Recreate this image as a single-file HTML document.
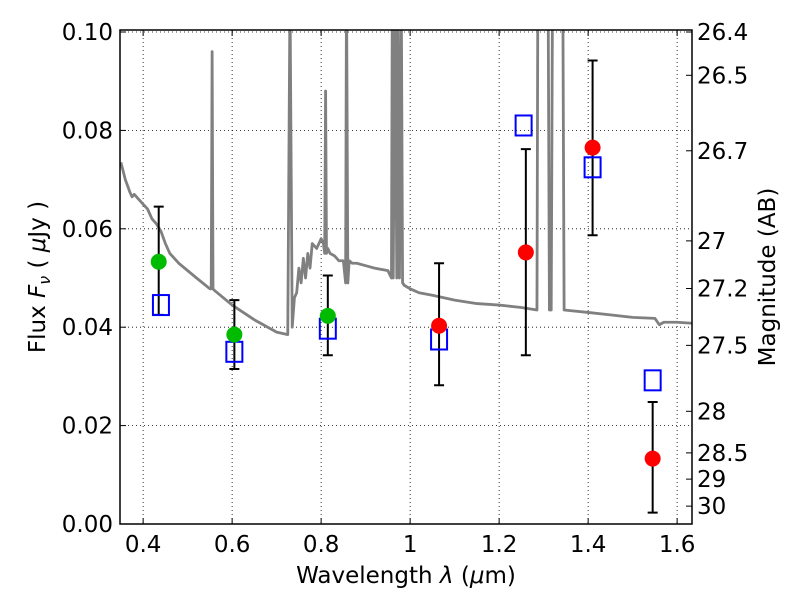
<!DOCTYPE html>
<html><head><meta charset="utf-8"><style>
body{margin:0;background:#fff}
svg text{font-family:"DejaVu Sans","Liberation Sans",sans-serif;fill:#000}
</style></head><body>
<svg id="chart" width="800" height="600" xmlns="http://www.w3.org/2000/svg">
<defs><clipPath id="clip"><rect x="120" y="30" width="572" height="494"/></clipPath></defs>
<rect x="0" y="0" width="800" height="600" fill="#fff"/>
<g id="grid"></g>
<g id="spec" clip-path="url(#clip)"></g>
<g id="marks" clip-path="url(#clip)"></g>
<rect x="120" y="30" width="572" height="494" fill="none" stroke="#000" stroke-width="1.5"/>
<g id="axes"></g>
<text x="406" y="583" font-size="23" text-anchor="middle">Wavelength  <tspan font-style="italic">λ</tspan> (<tspan font-style="italic">μ</tspan>m)</text>
<text transform="translate(45,277) rotate(-90)" font-size="23" text-anchor="middle">Flux  <tspan font-style="italic">F</tspan><tspan font-style="italic" font-size="16" dy="5">ν</tspan><tspan dy="-5">  (  </tspan><tspan font-style="italic">μ</tspan>Jy )</text>
<text transform="translate(775,277) rotate(-90)" font-size="23" text-anchor="middle">Magnitude (AB)</text>
</svg>
<script>
const xTicks=[0.4,0.6,0.8,1.0,1.2,1.4,1.6];
const xTickLabels=["0.4","0.6","0.8","1","1.2","1.4","1.6"];
const yTicks=[0,0.02,0.04,0.06,0.08,0.10];
const yTickLabels=["0.00","0.02","0.04","0.06","0.08","0.10"];
const magTicks=[26.4,26.5,26.7,27,27.2,27.5,28,28.5,29,30];
const magLabels=["26.4","26.5","26.7","27","27.2","27.5","28","28.5","29","30"];
const obsWave=[0.435,0.605,0.815,1.065,1.26,1.41,1.545];
const obsFlux=[0.0533,0.0385,0.0423,0.0403,0.0552,0.0765,0.0133];
const obsLo=[0.0425,0.0315,0.0343,0.0282,0.0343,0.0587,0.0023];
const obsHi=[0.0645,0.0455,0.0505,0.0530,0.0762,0.0942,0.0248];
const obsColor=["#00bb00","#00bb00","#00bb00","red","red","red","red"];
const modelWave=[0.44,0.605,0.815,1.065,1.255,1.41,1.545];
const modelFlux=[0.0445,0.035,0.0397,0.0375,0.081,0.0725,0.0292];
const specWave=[0.35,0.36,0.37,0.375,0.38,0.39,0.4,0.41,0.42,0.43,0.44,0.45,0.46,0.47,0.48,0.5,0.52,0.55,0.553,0.555,0.557,0.56,0.6,0.65,0.7,0.725,0.73,0.735,0.74,0.745,0.75,0.755,0.76,0.765,0.77,0.775,0.78,0.79,0.8,0.805,0.808,0.81,0.812,0.815,0.82,0.83,0.84,0.85,0.855,0.857,0.86,0.863,0.87,0.88,0.9,0.92,0.95,0.958,0.96,0.962,0.966,0.97,0.972,0.976,0.98,0.983,0.987,1.0,1.02,1.05,1.1,1.15,1.2,1.25,1.285,1.287,1.31,1.313,1.317,1.32,1.343,1.346,1.4,1.45,1.5,1.55,1.56,1.57,1.6,1.635];
const specFlux=[0.0735,0.070,0.0675,0.0665,0.067,0.066,0.065,0.064,0.062,0.061,0.0595,0.057,0.055,0.054,0.053,0.0515,0.050,0.0478,0.0478,0.096,0.0478,0.0475,0.0445,0.0415,0.039,0.0385,0.108,0.040,0.046,0.047,0.052,0.049,0.054,0.050,0.055,0.052,0.057,0.056,0.058,0.057,0.055,0.088,0.055,0.056,0.055,0.0545,0.0535,0.0535,0.049,0.11,0.049,0.0535,0.053,0.053,0.0525,0.052,0.0515,0.05,0.11,0.05,0.11,0.05,0.11,0.05,0.11,0.049,0.0485,0.0478,0.047,0.0465,0.0455,0.0448,0.0445,0.044,0.0435,0.11,0.11,0.0435,0.0435,0.11,0.11,0.0435,0.043,0.0425,0.042,0.0418,0.0405,0.041,0.041,0.0408];
const X=v=>120+(v-0.348)*445;
const Y=v=>524-v*4920;
const ns="http://www.w3.org/2000/svg";
function mk(tag,attrs,parent){const e=document.createElementNS(ns,tag);for(const k in attrs)e.setAttribute(k,attrs[k]);parent.appendChild(e);return e;}
const grid=document.getElementById('grid'),axes=document.getElementById('axes'),spec=document.getElementById('spec'),marks=document.getElementById('marks');
xTicks.forEach((t,i)=>{
 const l=mk('line',{x1:X(t),x2:X(t),y1:30,y2:524,stroke:'#000','stroke-width':0.8,'stroke-dasharray':'1,3'},grid);
 
 
 const tk=mk('path',{d:`M${X(t)},524v-6M${X(t)},30v6`,stroke:'#000','stroke-width':1},axes);
 
 
 const tx=mk('text',{x:X(t),y:552,'font-size':23,'text-anchor':'middle'},axes);tx.textContent=xTickLabels[i];
 
 
});
yTicks.forEach((t,i)=>{
 const l=mk('line',{x1:120,x2:692,y1:Y(t),y2:Y(t),stroke:'#000','stroke-width':0.8,'stroke-dasharray':'1,3'},grid);
 
 
 const tk=mk('path',{d:`M120,${Y(t)}h6`,stroke:'#000','stroke-width':1},axes);
 
 
 const tx=mk('text',{x:113,y:Y(t)+8,'font-size':23,'text-anchor':'end'},axes);tx.textContent=yTickLabels[i];
 
 
});
magTicks.forEach((m,i)=>{
 const f=Math.pow(10,(23.9-m)/2.5);const y=Y(f);
 const tk=mk('path',{d:`M692,${y}h-6`,stroke:'#000','stroke-width':1},axes);
 
 
 const tx=mk('text',{x:697,y:y+8,'font-size':23},axes);tx.textContent=magLabels[i];
 
 
});
const sp=mk('polyline',{points:specWave.map((w,i)=>X(w)+','+Y(specFlux[i])).join(' '),fill:'none',stroke:'#808080','stroke-width':2.8,'stroke-linejoin':'round'},spec);


obsWave.forEach((w,i)=>{
 const x=X(w);
 const e=mk('path',{d:`M${x},${Y(obsLo[i])}V${Y(obsHi[i])}M${x-5},${Y(obsLo[i])}h10M${x-5},${Y(obsHi[i])}h10`,stroke:'#000','stroke-width':2},marks);
 
 
});
modelWave.forEach((w,i)=>{
 const r=mk('rect',{x:X(w)-8,y:Y(modelFlux[i])-10,width:16,height:20,fill:'none',stroke:'#0000ff','stroke-width':2},marks);
 
 
});
obsWave.forEach((w,i)=>{
 const c=mk('circle',{cx:X(w),cy:Y(obsFlux[i]),r:8,fill:obsColor[i]},marks);
 
 
});
</script>
</body></html>
